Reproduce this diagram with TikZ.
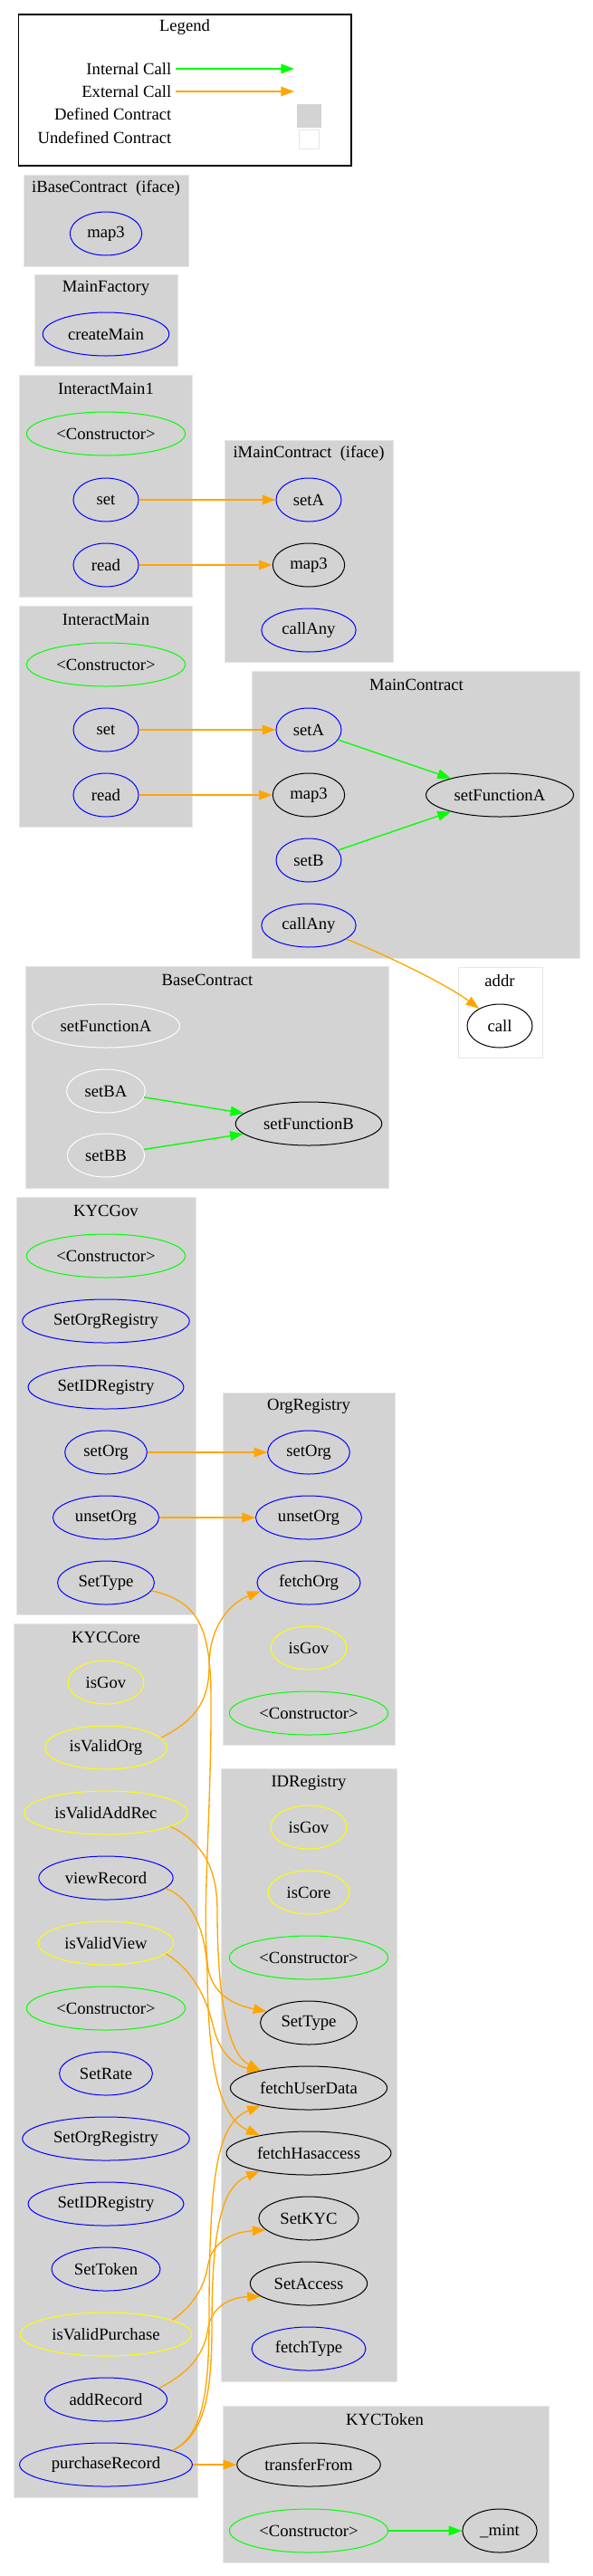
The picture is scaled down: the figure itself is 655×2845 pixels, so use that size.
\documentclass[tikz,border=0pt]{standalone}
\usepackage{fontspec}
\setmainfont{Liberation Serif}
\usetikzlibrary{arrows.meta,shapes.geometric}
\definecolor{gvblue}{HTML}{0000FF}
\definecolor{gvgreen}{HTML}{00FF00}
\definecolor{gvyellow}{HTML}{FFFF00}
\definecolor{gvorange}{HTML}{FFA500}
\definecolor{gvgray}{HTML}{D3D3D3}
\definecolor{gvrim}{HTML}{E6E6E6}
\begin{document}
\begin{tikzpicture}[x=0.75pt,y=-0.75pt,
  font=\fontsize{14}{16}\selectfont,
  fn/.style={ellipse,draw,line width=0.75pt,inner xsep=5.5pt,inner ysep=2pt,minimum width=54pt,minimum height=36pt},
  pub/.style={fn,draw=gvblue},
  ctor/.style={fn,draw=gvgreen},
  modf/.style={fn,draw=gvyellow},
  undef/.style={fn,draw=black},
  priv/.style={fn,draw=white},
  cluster/.style={fill=gvgray,draw=gvrim,line width=0.75pt},
  intcall/.style={color=gvgreen,line width=1pt,-{Triangle[length=11pt,width=8pt]}},
  extcall/.style={color=gvorange,line width=1pt,-{Triangle[length=11pt,width=8pt]}}]
\useasboundingbox (0,0) rectangle (655,2845);

%%%%%%%% legend
\draw[line width=1pt] (20.5,16) rectangle (388,183);
\node (lgTitle) at (204,30) {Legend};
\node[anchor=east] (lgInt) at (194,76) {Internal Call};
\node[anchor=east] (lgExt) at (194,101) {External Call};
\node[anchor=east] (lgDef) at (194,126) {Defined Contract};
\node[anchor=east] (lgUndef) at (194,152) {Undefined Contract};
\coordinate (lgIntEnd) at (325,76);
\coordinate (lgExtEnd) at (325,101);
\path[fill=gvgray,draw=gvgray] (328,115) rectangle (354,140);
\path[fill=white,draw=gvrim,line width=0.75pt] (330,143) rectangle (352,164);
\path[intcall] (lgInt) edge (lgIntEnd);
\path[extcall] (lgExt) edge (lgExtEnd);

%%%%%%%% contract boxes
\path[cluster] (26,193) rectangle (208,294);
\path[cluster] (38,303) rectangle (196,404);
\path[cluster] (21,414) rectangle (212,659);
\path[cluster] (248,486) rectangle (434,731);
\path[cluster] (21,669) rectangle (212,913);
\path[cluster] (278.5,741) rectangle (640,1058);
\path[fill=white,draw=gvrim,line width=0.75pt] (506,1068) rectangle (599,1168);
\path[cluster] (28,1067) rectangle (429.5,1312);
\path[cluster] (18,1322) rectangle (216,1783);
\path[cluster] (246,1538) rectangle (436.6,1927);
\path[cluster] (15.5,1793) rectangle (218,2758);
\path[cluster] (244,1953) rectangle (438,2630);
\path[cluster] (246,2657) rectangle (606,2830);

%%%%%%%% iBaseContract, MainFactory
\node (ibTitle) at (117,208) {iBaseContract\ \ (iface)};
\node[pub] (ibMap3) at (117,258) {map3};
\node (mfTitle) at (117,318) {MainFactory};
\node[pub] (mfCreateMain) at (117,369) {createMain};

%%%%%%%% InteractMain1, iMainContract
\node (im1Title) at (117,429) {InteractMain1};
\node[ctor] (im1Ctor) at (117,479) {<Constructor>};
\node[pub] (im1Set) at (117,552) {set};
\node[pub] (im1Read) at (117,624) {read};
\node (imcTitle) at (341,501) {iMainContract\ \ (iface)};
\node[pub] (imcSetA) at (341,552) {setA};
\node[undef] (imcMap3) at (341,624) {map3};
\node[pub] (imcCallAny) at (341,696) {callAny};

%%%%%%%% InteractMain, MainContract, addr
\node (imTitle) at (117,684) {InteractMain};
\node[ctor] (imCtor) at (117,734) {<Constructor>};
\node[pub] (imSet) at (117,806) {set};
\node[pub] (imRead) at (117,878) {read};
\node (mcTitle) at (460,756) {MainContract};
\node[pub] (mcSetA) at (341,806) {setA};
\node[undef] (mcMap3) at (341,878) {map3};
\node[pub] (mcSetB) at (341,950) {setB};
\node[pub] (mcCallAny) at (341,1022) {callAny};
\node[undef] (mcSetFnA) at (552,878) {setFunctionA};
\node (addrTitle) at (552,1083) {addr};
\node[undef] (addrCall) at (552,1133) {call};

%%%%%%%% BaseContract
\node (bcTitle) at (229,1082) {BaseContract};
\node[priv] (bcSetFnA) at (117,1133) {setFunctionA};
\node[priv] (bcSetBA) at (117,1205) {setBA};
\node[priv] (bcSetBB) at (117,1276) {setBB};
\node[undef] (bcSetFnB) at (341,1241) {setFunctionB};

%%%%%%%% KYCGov, OrgRegistry
\node (kgTitle) at (117,1337) {KYCGov};
\node[ctor] (kgCtor) at (117,1387) {<Constructor>};
\node[pub] (kgSetOrgReg) at (117,1459) {SetOrgRegistry};
\node[pub] (kgSetIDReg) at (117,1532) {SetIDRegistry};
\node[pub] (kgSetOrg) at (117,1604) {setOrg};
\node[pub] (kgUnsetOrg) at (117,1676) {unsetOrg};
\node[pub] (kgSetType) at (117,1748) {SetType};
\node (orgTitle) at (341,1553) {OrgRegistry};
\node[pub] (orgSetOrg) at (341,1604) {setOrg};
\node[pub] (orgUnsetOrg) at (341,1676) {unsetOrg};
\node[pub] (orgFetchOrg) at (341,1748) {fetchOrg};
\node[modf] (orgIsGov) at (341,1820) {isGov};
\node[ctor] (orgCtor) at (341,1892) {<Constructor>};

%%%%%%%% KYCCore
\node (kcTitle) at (117,1808) {KYCCore};
\node[modf] (kcIsGov) at (117,1858) {isGov};
\node[modf] (kcIsValidOrg) at (117,1930) {isValidOrg};
\node[modf] (kcIsValidAddRec) at (117,2002) {isValidAddRec};
\node[pub] (kcViewRecord) at (117,2074) {viewRecord};
\node[modf] (kcIsValidView) at (117,2146) {isValidView};
\node[ctor] (kcCtor) at (117,2218) {<Constructor>};
\node[pub] (kcSetRate) at (117,2290) {SetRate};
\node[pub] (kcSetOrgReg) at (117,2362) {SetOrgRegistry};
\node[pub] (kcSetIDReg) at (117,2434) {SetIDRegistry};
\node[pub] (kcSetToken) at (117,2506) {SetToken};
\node[modf] (kcIsValidPurchase) at (117,2578) {isValidPurchase};
\node[pub] (kcAddRecord) at (117,2650) {addRecord};
\node[pub] (kcPurchaseRecord) at (117,2722) {purchaseRecord};

%%%%%%%% IDRegistry, KYCToken
\node (idTitle) at (341,1969) {IDRegistry};
\node[modf] (idIsGov) at (341,2018) {isGov};
\node[modf] (idIsCore) at (341,2090) {isCore};
\node[ctor] (idCtor) at (341,2162) {<Constructor>};
\node[undef] (idSetType) at (341,2234) {SetType};
\node[undef] (idFetchUserData) at (341,2306) {fetchUserData};
\node[undef] (idFetchHasaccess) at (341,2378) {fetchHasaccess};
\node[undef] (idSetKYC) at (341,2450) {SetKYC};
\node[undef] (idSetAccess) at (341,2522) {SetAccess};
\node[pub] (idFetchType) at (341,2594) {fetchType};
\node (ktTitle) at (425,2672) {KYCToken};
\node[undef] (ktTransferFrom) at (341,2722) {transferFrom};
\node[ctor] (ktCtor) at (341,2795) {<Constructor>};
\node[undef] (ktMint) at (552,2795) {\_mint};

%%%%%%%% calls
\path[extcall] (im1Set) edge (imcSetA);
\path[extcall] (im1Read) edge (imcMap3);
\path[extcall] (imSet) edge (mcSetA);
\path[extcall] (imRead) edge (mcMap3);
\path[intcall] (mcSetA) edge (mcSetFnA);
\path[intcall] (mcSetB) edge (mcSetFnA);
\draw[extcall] (mcCallAny.-20) .. controls (420,1052) and (490,1085) .. (addrCall.140);
\path[intcall] (bcSetBA) edge (bcSetFnB);
\path[intcall] (bcSetBB) edge (bcSetFnB);
%%%%%%%%
\path[extcall] (kgSetOrg) edge (orgSetOrg);
\path[extcall] (kgUnsetOrg) edge (orgUnsetOrg);
\draw[extcall] (kgSetType.-10) .. controls (220,1768) and (232,1800) .. (233,1870) .. controls (234,2000) and (222,2120) .. (230,2175) .. controls (236,2205) and (262,2215) .. (idSetType.165);
\draw[extcall] (kcIsValidOrg.10) .. controls (215,1900) and (231,1880) .. (231,1840) .. controls (231,1795) and (255,1770) .. (orgFetchOrg.190);
%%%%%%%%
\draw[extcall] (kcIsValidAddRec.-12) .. controls (225,2035) and (240,2065) .. (240,2110) .. controls (240,2220) and (255,2270) .. (idFetchUserData.160);
\draw[extcall] (kcViewRecord.-10) .. controls (210,2095) and (228,2130) .. (229,2180) .. controls (230,2290) and (245,2340) .. (idFetchHasaccess.160);
\draw[extcall] (kcIsValidView.-10) .. controls (212,2175) and (228,2205) .. (236,2240) .. controls (243,2268) and (260,2282) .. (idFetchUserData.160);
\draw[extcall] (kcPurchaseRecord.12) .. controls (222,2690) and (231,2650) .. (231,2560) .. controls (231,2400) and (240,2345) .. (idFetchUserData.200);
\draw[extcall] (kcPurchaseRecord.12) .. controls (224,2690) and (234,2650) .. (234,2570) .. controls (234,2460) and (245,2415) .. (idFetchHasaccess.200);
\draw[extcall] (kcIsValidPurchase.12) .. controls (215,2545) and (226,2525) .. (230,2500) .. controls (235,2475) and (258,2465) .. (idSetKYC.195);
\draw[extcall] (kcAddRecord.12) .. controls (210,2620) and (226,2600) .. (230,2570) .. controls (235,2545) and (258,2537) .. (idSetAccess.195);
\path[extcall] (kcPurchaseRecord) edge (ktTransferFrom);
\path[intcall] (ktCtor) edge (ktMint);

%%%%%%%%%%%%%%%%%%%%%%%%%%%%%%%%%%%
\end{tikzpicture}
\end{document}
